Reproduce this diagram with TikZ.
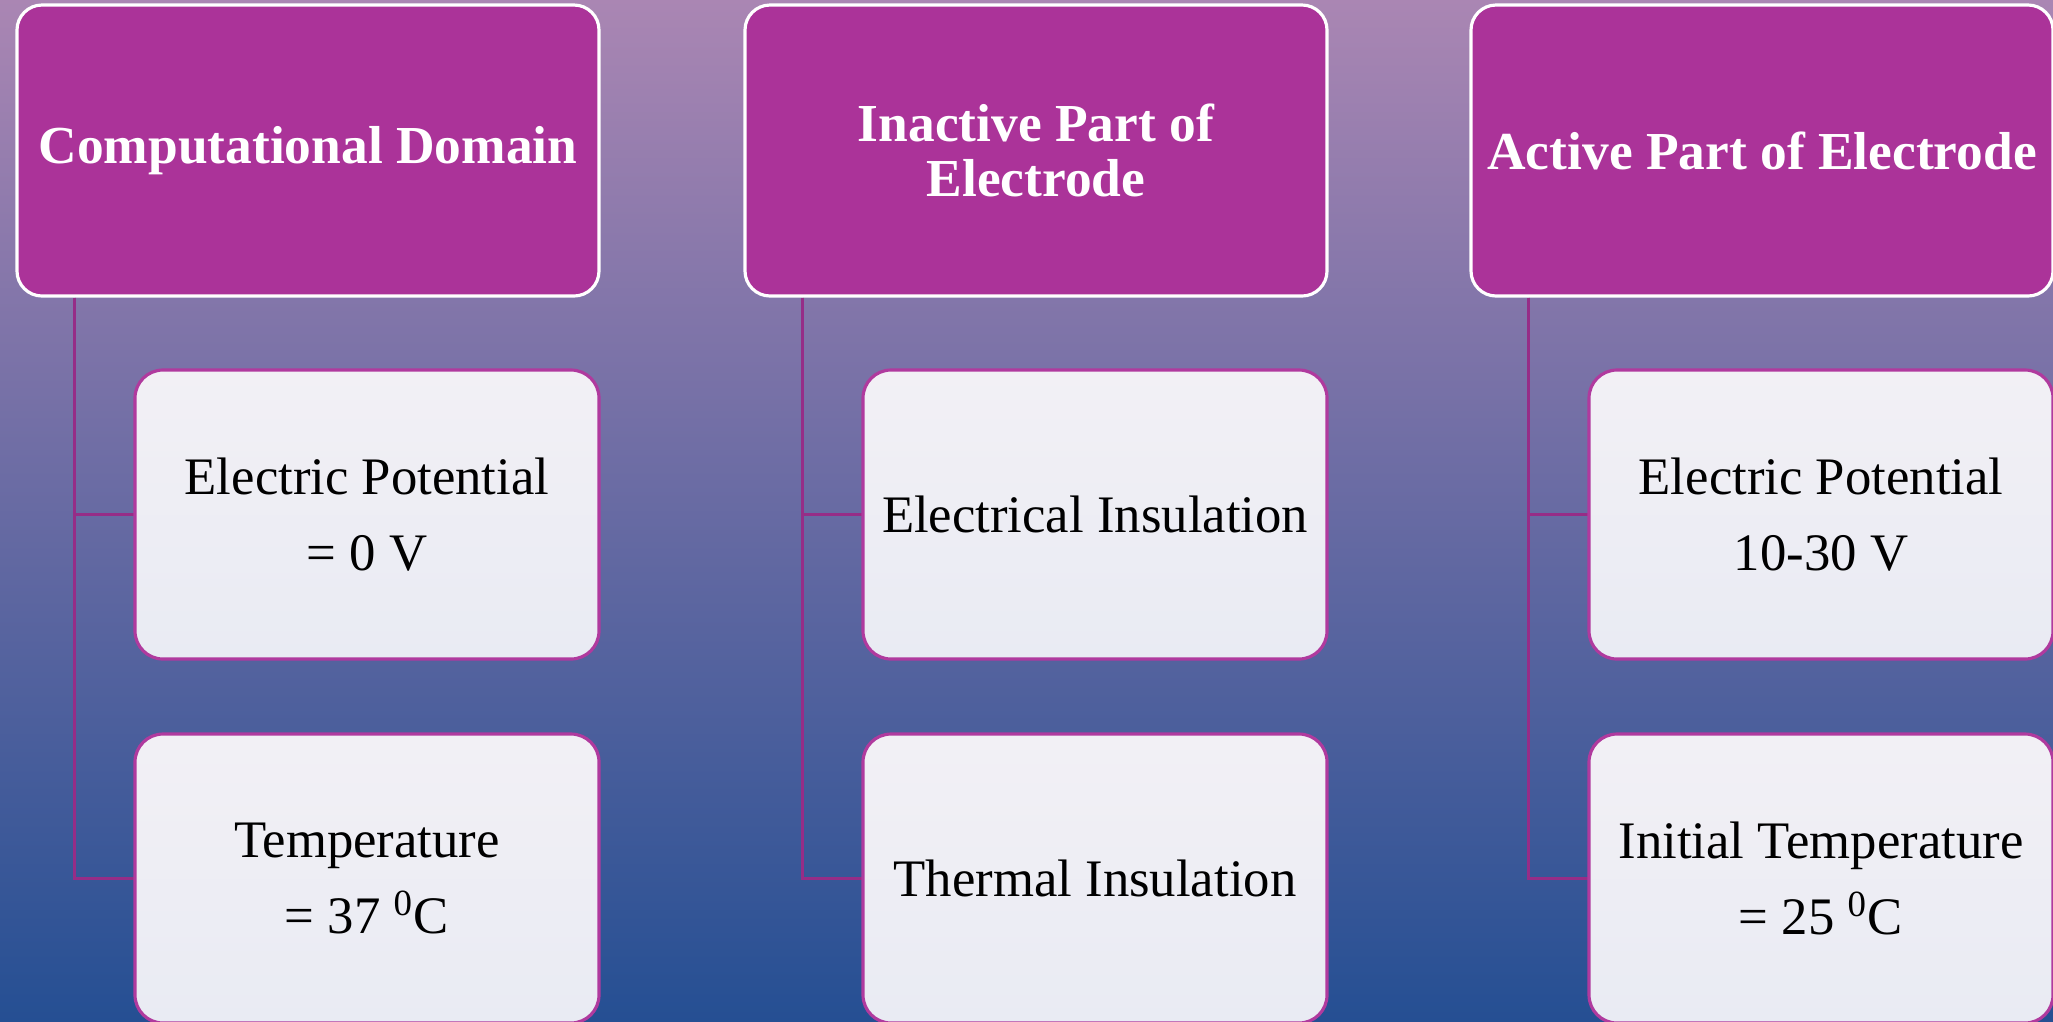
\documentclass[tikz,border=0pt]{standalone}
\usepackage{fontspec}
\setmainfont{Liberation Serif}
\usetikzlibrary{positioning}

\definecolor{bgtop}{RGB}{170,134,179}
\definecolor{bgmid}{RGB}{110,99,157}
\definecolor{bgbot}{RGB}{37,79,147}
\definecolor{headfill}{RGB}{171,51,153}
\definecolor{leafedge}{RGB}{176,58,158}
\definecolor{leaftop}{RGB}{242,240,245}
\definecolor{leafbot}{RGB}{233,235,243}
\definecolor{linkcol}{RGB}{150,45,135}

\begin{document}
\begin{tikzpicture}[
    head/.style={draw=white, line width=0.9pt, fill=headfill, rounded corners=0.25cm,
      minimum width=5.82cm, minimum height=2.91cm, inner sep=0pt, align=center,
      text=white, font=\fontsize{15.2}{15.8}\selectfont\bfseries},
    leaf/.style={draw=leafedge, line width=0.9pt, top color=leaftop, bottom color=leafbot,
      rounded corners=0.28cm, minimum width=4.64cm, minimum height=2.89cm, inner sep=0pt,
      align=center, font=\fontsize{15}{21.6}\selectfont},
    link/.style={draw=linkcol, line width=0.9pt}]
    % background
    \useasboundingbox (0,0) rectangle (20.53,-10.21);
    \shade[top color=bgtop, middle color=bgmid, bottom color=bgbot] (0,0) rectangle (20.53,-10.21);
    % Computational domain
    \node[head] (cd) at (3.08,-1.505) {Computational Domain};
    \draw[link] ([xshift=0.59cm]cd.south west) |- (3.67,-5.145) coordinate (cdA);
    \draw[link] ([xshift=0.59cm]cd.south west) |- (3.67,-8.785) coordinate (cdB);
    \node[leaf] (cd1) at (cdA) {Electric Potential\\= 0 V};
    \node[leaf] (cd2) at (cdB) {Temperature\\= 37 \textsuperscript{0}C};
    % Inactive part
    \node[head] (ip) at (10.36,-1.505) {Inactive Part of\\Electrode};
    \draw[link] ([xshift=0.59cm]ip.south west) |- (10.95,-5.145) coordinate (ipA);
    \draw[link] ([xshift=0.59cm]ip.south west) |- (10.95,-8.785) coordinate (ipB);
    \node[leaf] (ip1) at (ipA) {Electrical Insulation};
    \node[leaf] (ip2) at (ipB) {Thermal Insulation};
    % Active part
    \node[head] (ap) at (17.62,-1.505) {Active Part of Electrode};
    \draw[link] ([xshift=0.59cm]ap.south west) |- (18.21,-5.145) coordinate (apA);
    \draw[link] ([xshift=0.59cm]ap.south west) |- (18.21,-8.785) coordinate (apB);
    \node[leaf] (ap1) at (apA) {Electric Potential\\10-30 V};
    \node[leaf] (ap2) at (apB) {Initial Temperature\\= 25 \textsuperscript{0}C};
\end{tikzpicture}
\end{document}
